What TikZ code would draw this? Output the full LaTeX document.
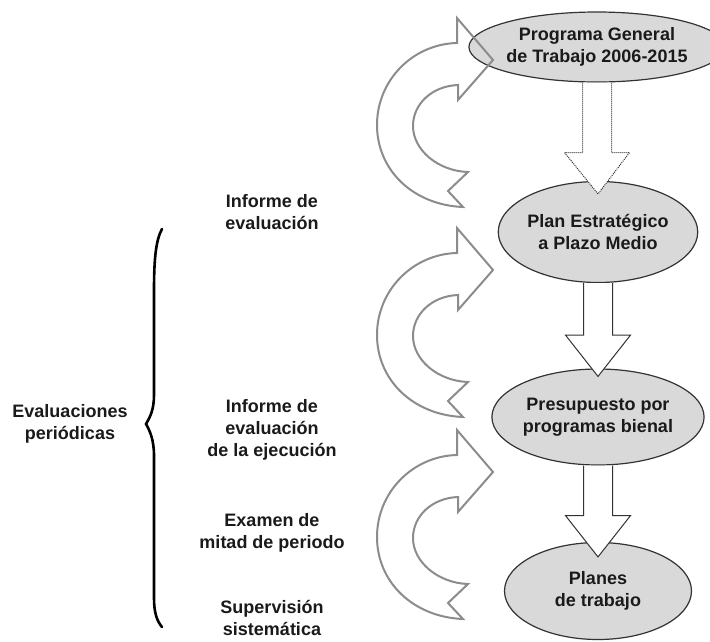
\documentclass[tikz,border=0pt]{standalone}
\usepackage{fontspec}
\setmainfont{Liberation Sans}
\usetikzlibrary{shapes.geometric,calc}
\definecolor{txt}{HTML}{1A1A1A}
\definecolor{efill}{HTML}{D9D9D9}
\definecolor{eline}{HTML}{333333}
\definecolor{cline}{HTML}{8C8C8C}
\tikzset{
  oval/.style={ellipse, draw=eline, line width=1.2pt, fill=efill, inner sep=0pt,
    font=\bfseries\fontsize{18}{22}\selectfont, text=txt, align=center},
  lbl/.style={font=\bfseries\fontsize{18}{22}\selectfont, text=txt, align=center, inner sep=0pt},
  darr/.style={draw=eline, line width=1pt, fill=white, line join=miter},
  cfill/.style={fill=white, draw=none},
  cdraw/.style={draw=cline, line width=2pt, line join=miter},
}
\newcommand\curvearrowpath{(457,43) -- (457,18) -- (493,60) -- (458,100) -- (458,85)
   .. controls (432,86) and (413,104) .. (413,126)
   .. controls (413,150) and (438,171) .. (468,172)
   -- (448,191) -- (463,207)
   .. controls (413,205) and (377,170) .. (377,125)
   .. controls (377,80) and (413,44) .. (457,43) -- cycle}
\begin{document}
\begin{tikzpicture}[x=1pt,y=-1pt]
\useasboundingbox (0,0) rectangle (710,641);
% curved arrows (fill)
\foreach \dy in {0,210,412}{
  \begin{scope}[shift={(0,\dy)}]
    \path[cfill] \curvearrowpath;
  \end{scope}
}
% ellipses
\node[oval, minimum width=240pt, minimum height=70pt] (e1) at (597,47) {Programa General\\de Trabajo 2006-2015};
\node[oval, minimum width=187pt, minimum height=101pt] (e2) at (598,232) {Plan Estratégico\\a Plazo Medio};
\node[oval, minimum width=187pt, minimum height=96pt] (e3) at (598,417) {Presupuesto por\\programas bienal};
\node[oval, minimum width=187pt, minimum height=97pt] (e4) at (598,591) {Planes\\de trabajo};
% curved arrows (outline)
\foreach \dy in {0,210,412}{
  \begin{scope}[shift={(0,\dy)}]
    \draw[cdraw] \curvearrowpath;
  \end{scope}
}
% down block arrows
\draw[darr, densely dotted] ($(e1.south)+(-14.5,0)$) -- ++(0,70) -- ++(-18,0) -- ($(e2.north)+(0,13)$)
  -- ($(e1.south)+(32.5,70)$) -- ++(-18,0) -- ($(e1.south)+(14.5,0)$);
\draw[darr] ($(e2.south)+(-14.5,0)$) -- ++(0,52) -- ++(-18,0) -- ($(e3.north)+(0,8)$)
  -- ($(e2.south)+(32.5,52)$) -- ++(-18,0) -- ($(e2.south)+(14.5,0)$);
\draw[darr] ($(e3.south)+(-14.5,0)$) -- ++(0,50) -- ++(-18,0) -- ($(e4.north)+(0,15)$)
  -- ($(e3.south)+(32.5,50)$) -- ++(-18,0) -- ($(e3.south)+(14.5,0)$);
% labels
\node[lbl] (t1) at (272,212) {Informe de\\evaluación};
\node[lbl] (t2) at (272,430) {Informe de\\evaluación\\de la ejecución};
\node[lbl] (t3) at (272,533) {Examen de\\mitad de periodo};
\node[lbl] (t4) at (272,618) {Supervisión\\sistemática};
\node[lbl] (t0) at (70,424) {Evaluaciones\\periódicas};
% brace
\draw[black, line width=2.6pt, line cap=round]
  (162,229) .. controls (156,240) and (154,258) .. (154,290)
  -- (154,395) .. controls (154,410) and (150,417) .. (146,424)
  .. controls (150,431) and (154,440) .. (154,456)
  -- (154,598) .. controls (154,613) and (157,621) .. (162,627);
\end{tikzpicture}
\end{document}
